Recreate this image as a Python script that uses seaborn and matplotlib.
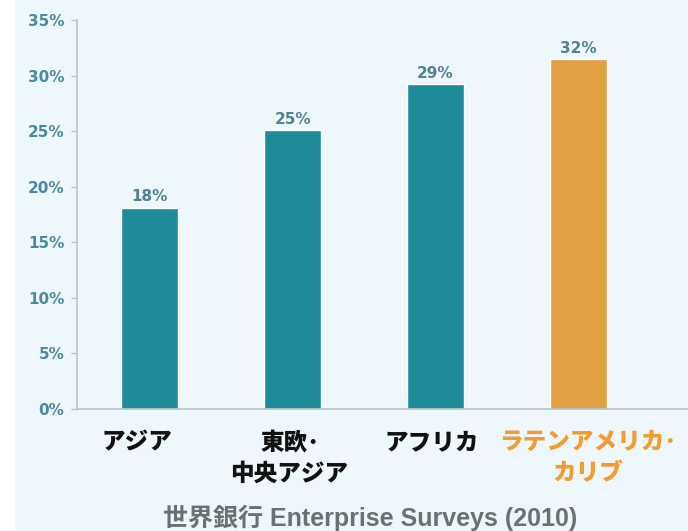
import matplotlib
matplotlib.use("Agg")
import matplotlib.pyplot as plt
import matplotlib.patches as mpatches
import matplotlib.transforms as mtransforms
import pandas as pd
import seaborn as sns

# ── data ──────────────────────────────────────────────────────────────────────
regions = ["アジア", "東欧･\n中央アジア", "アフリカ", "ラテンアメリカ･\nカリブ"]
shares = [18.1, 25.1, 29.2, 31.5]
share_labels = ["18%", "25%", "29%", "32%"]
yticks = [0, 5, 10, 15, 20, 25, 30, 35]
bar_colors = ["#1f8a9a", "#1f8a9a", "#1f8a9a", "#e1a042"]
label_colors = ["#111111", "#111111", "#111111", "#f59a2e"]
label_shift_px = [-13, -3, -4, 10]
source = "世界銀行 Enterprise Surveys (2010)"

BG = "#eef7fb"
TICK = "#4a8a9c"

sns.set_style("white")
plt.rcParams["font.family"] = ["Noto Sans CJK JP", "DejaVu Sans"]

df = pd.DataFrame({"region": regions, "share": shares})

fig = plt.figure(figsize=(6.88, 5.31), dpi=100, facecolor=BG)
fig.patches.append(mpatches.Rectangle((0, 0), 15 / 688, 1, transform=fig.transFigure,
                                      facecolor="white", edgecolor="none", zorder=-1))
ax = fig.add_axes([77 / 688, 122 / 531, 611 / 688, 389 / 531])
ax.set_facecolor(BG)

sns.barplot(data=df, x="region", y="share", hue="region", palette=bar_colors,
            legend=False, width=0.4, ax=ax, saturation=1)

for i, (v, lab) in enumerate(zip(shares, share_labels)):
    ax.text(i, v + 0.3, lab, ha="center", va="bottom", fontsize=11,
            fontweight="bold", color="#4f8293", family="DejaVu Sans")

ax.set_ylim(0, 35)
ax.set_xlim(-0.51, 3.77)
ax.set_yticks(yticks)
ax.set_yticklabels([f"{t}%" for t in yticks], fontsize=11, fontweight="bold",
                   color=TICK, family="DejaVu Sans")
ax.tick_params(axis="y", length=4, width=1, color="#b9c4c8", pad=5, left=True)
ax.tick_params(axis="x", length=0, pad=15)
ax.set_xticks(range(len(regions)))
ax.set_xticklabels(regions, fontsize=17, fontweight="heavy", linespacing=1.35)
for t, c, dx in zip(ax.get_xticklabels(), label_colors, label_shift_px):
    t.set_color(c)
    t.set_transform(t.get_transform() +
                    mtransforms.ScaledTranslation(dx / 100, 0, fig.dpi_scale_trans))
ax.set_xlabel("")
ax.set_ylabel("")

for s in ["top", "right"]:
    ax.spines[s].set_visible(False)
for s in ["left", "bottom"]:
    ax.spines[s].set_color("#b9c4c8")
    ax.spines[s].set_linewidth(1.2)

fig.text(370 / 688, 1 - 518 / 531, source, ha="center", va="center",
         fontsize=18, fontweight="bold", color="#6b7073",
         family=["Liberation Sans", "Noto Sans CJK JP"])

fig.savefig("out.png", dpi=100, facecolor=BG)
